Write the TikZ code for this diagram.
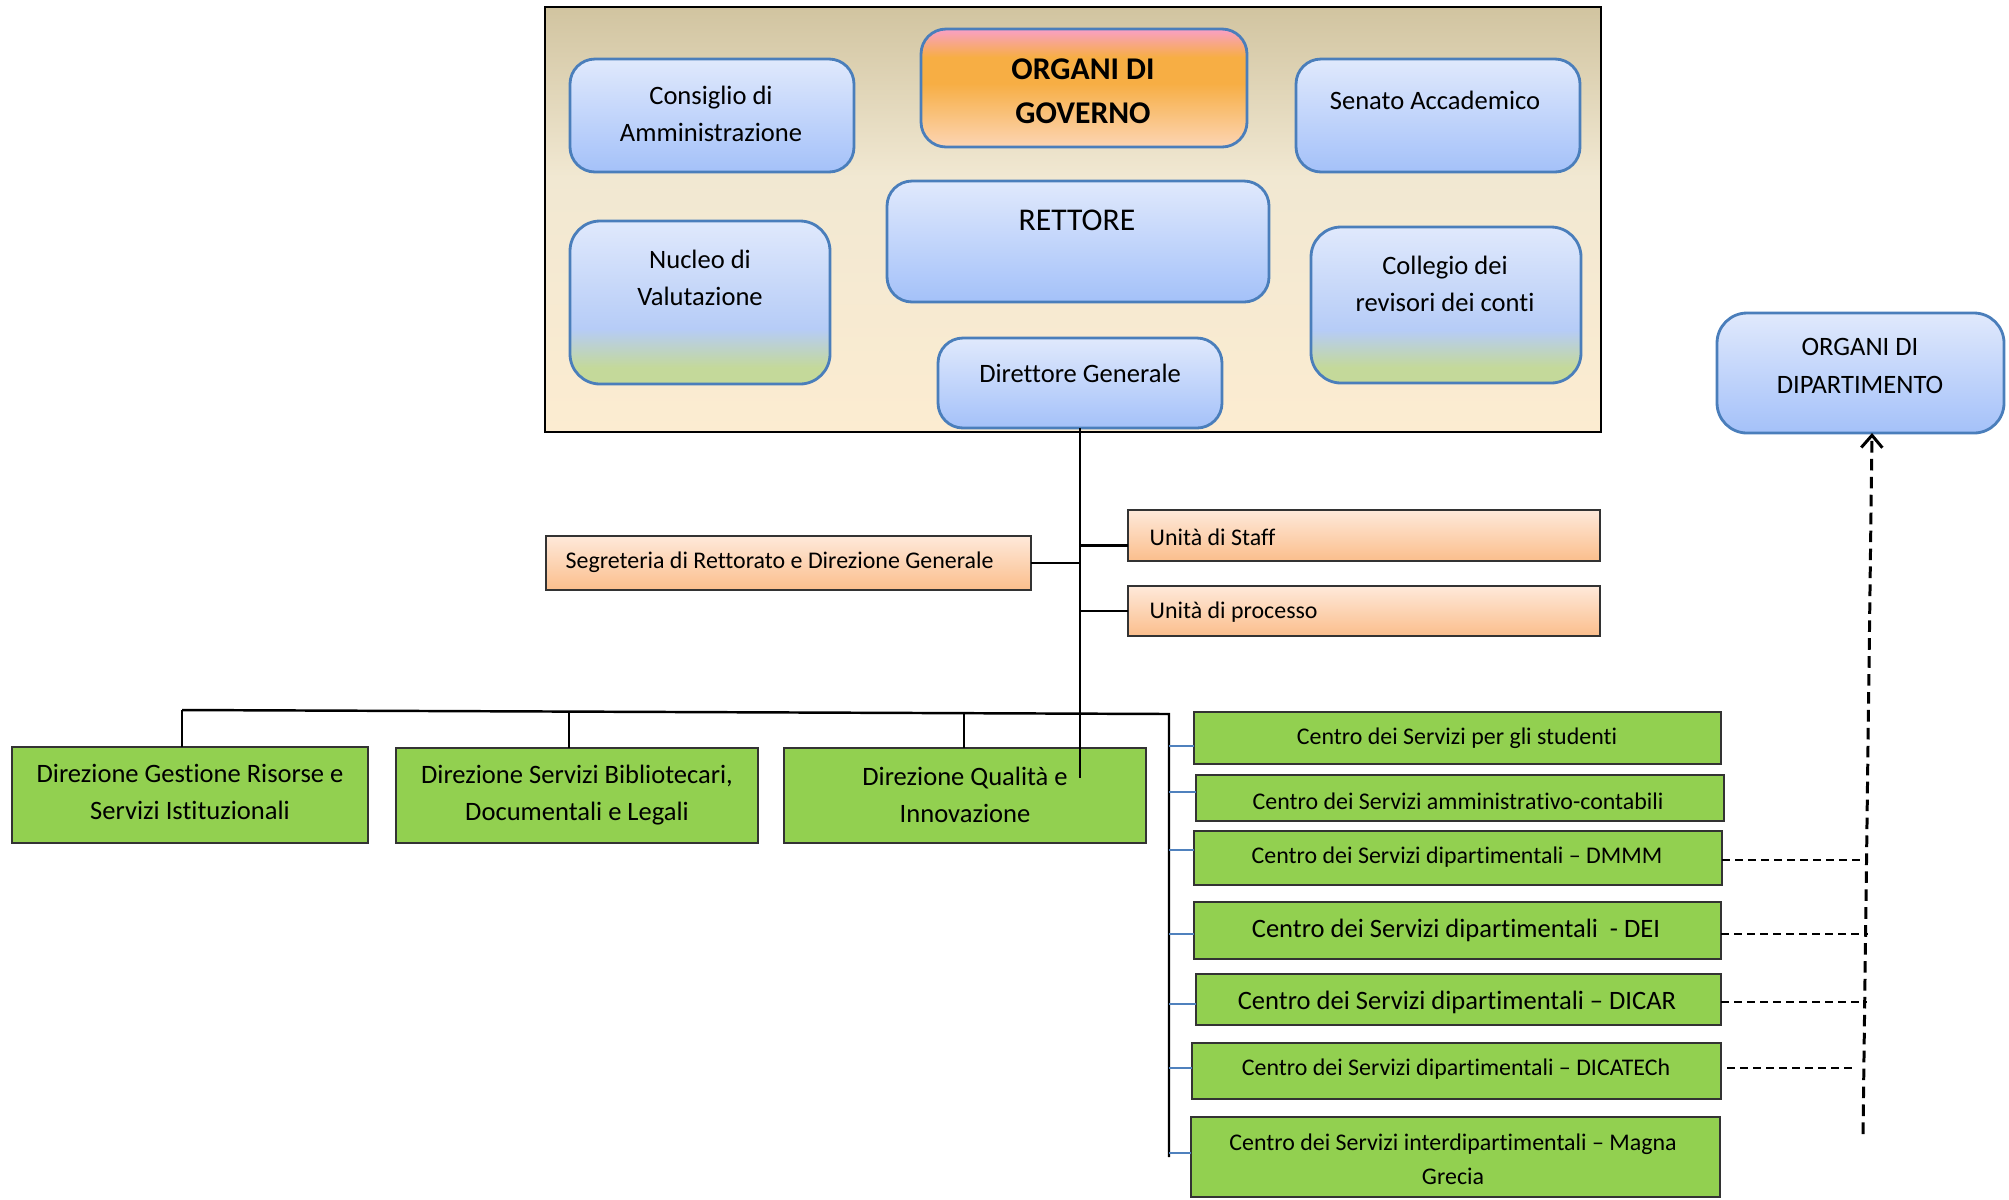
\documentclass[tikz,border=0pt]{standalone}
\usepackage{fontspec}
\setmainfont{Carlito}[Ligatures={NoCommon,NoContextual}, Contextuals=NoAlternate]
\usetikzlibrary{fit,arrows.meta}
\definecolor{bt}{HTML}{E0E9FC}
\definecolor{bb}{HTML}{A4C1F9}
\definecolor{bm}{HTML}{B6CCF7}
\definecolor{gb}{HTML}{C4D99A}
\definecolor{bord}{HTML}{4A7EBB}
\definecolor{grn}{HTML}{92D050}
\definecolor{ot}{HTML}{FEE9DA}
\definecolor{ob}{HTML}{FBBE8C}
\definecolor{kt}{HTML}{D1C4A0}
\definecolor{km}{HTML}{F1E8D2}
\definecolor{kb}{HTML}{FCECD1}
\definecolor{pk}{HTML}{F9A0C6}
\definecolor{og}{HTML}{F7AE44}
\definecolor{pb}{HTML}{FCD5B4}
\definecolor{conn}{HTML}{4F81BD}
\pgfdeclareverticalshading{blueg}{100bp}{color(0bp)=(bb); color(25bp)=(bb); color(75bp)=(bt); color(100bp)=(bt)}
\pgfdeclareverticalshading{bgreen}{100bp}{color(0bp)=(gb); color(30bp)=(gb); color(42bp)=(bm); color(75bp)=(bt); color(100bp)=(bt)}
\pgfdeclareverticalshading{orgov}{100bp}{color(0bp)=(pb); color(25bp)=(pb); color(52bp)=(og); color(63bp)=(og); color(75bp)=(pk); color(100bp)=(pk)}
\pgfdeclareverticalshading{khaki}{100bp}{color(0bp)=(kb); color(25bp)=(kb); color(55bp)=(km); color(75bp)=(kt); color(100bp)=(kt)}
\pgfdeclareverticalshading{orbox}{100bp}{color(0bp)=(ob); color(25bp)=(ob); color(75bp)=(ot); color(100bp)=(ot)}
\tikzset{
  bx/.style={inner sep=0pt, outer sep=0pt},
  bluebox/.style={bx, draw=bord, line width=0.8pt, rounded corners=0.25cm, shade, shading=blueg},
  bgbox/.style={bx, draw=bord, line width=0.8pt, rounded corners=0.3cm, shade, shading=bgreen},
  govbox/.style={bx, draw=bord, line width=0.8pt, rounded corners=0.25cm, shade, shading=orgov},
  outerbox/.style={bx, draw=black, line width=0.7pt, shade, shading=khaki},
  orbx/.style={bx, draw=black!80, line width=0.75pt, shade, shading=orbox},
  grbox/.style={bx, draw=black!80, line width=0.75pt, fill=grn},
  txs/.style={inner sep=0pt, align=center, font=\fontsize{6.8}{9.7}\selectfont},
  txm/.style={inner sep=0pt, align=center, font=\fontsize{7.55}{10.6}\selectfont},
  txl/.style={inner sep=0pt, align=center, font=\fontsize{9}{12.5}\selectfont},
  txb/.style={inner sep=0pt, align=center, font=\fontsize{9}{12.5}\selectfont\bfseries},
  ln/.style={draw=black, line width=0.7pt},
  bl/.style={draw=conn, line width=0.5pt},
  dsh/.style={draw=black, line width=0.55pt, dash pattern=on 2.3pt off 1.4pt},
  dshv/.style={draw=black, line width=0.85pt, dash pattern=on 3.3pt off 1.8pt}
}
\begin{document}
\begin{tikzpicture}[x=0.01cm, y=-0.01cm]
\useasboundingbox (0,0) rectangle (2009,1199);
% outer governance frame
\node[outerbox, fit={(545,7) (1601,432)}] (outer) {};
\node[govbox, fit={(921,29) (1247,147)}] (gov) {};
\node[bluebox, fit={(570,59) (854,172)}] (cons) {};
\node[bluebox, fit={(1296,59) (1580,172)}] (sen) {};
\node[bluebox, fit={(887,181) (1269,302)}] (ret) {};
\node[bgbox, fit={(570,221) (830,384)}] (nuc) {};
\node[bgbox, fit={(1311,227) (1581,383)}] (col) {};
\node[bluebox, fit={(938,338) (1222,428)}] (dg) {};
\node[bluebox, rounded corners=0.3cm, fit={(1717,313) (2004,433)}] (od) {};
% texts
\node[txb] (govt) at (1083,91) {ORGANI DI\\GOVERNO};
\node[txm] (const) at (711,114) {Consiglio di\\Amministrazione};
\node[txm] (sent) at (1435,100) {Senato Accademico};
\node[txl] (rett) at (1077,220) {RETTORE};
\node[txm] (nuct) at (700,278) {Nucleo di\\Valutazione};
\node[txm] (colt) at (1445,284) {Collegio dei\\revisori dei conti};
\node[txm] (dgt) at (1080,373) {Direttore Generale};
\node[txm] (odt) at (1860,366) {ORGANI DI\\DIPARTIMENTO};
% staff boxes
\node[orbx, fit={(546,536) (1031,590)}] (seg) {};
\node[orbx, fit={(1128,510) (1600,561)}] (staff) {};
\node[orbx, fit={(1128,586) (1600,636)}] (proc) {};
\node[txs, anchor=west] (segt) at (565,562) {Segreteria di Rettorato e Direzione Generale};
\node[txs, anchor=west] (stafft) at (1149,537) {Unità di Staff};
\node[txs, anchor=west] (proct) at (1149,612) {Unità di processo};
% direzioni
\node[grbox, fit={(12,747) (368,843)}] (gest) {};
\node[grbox, fit={(396,748) (758,843)}] (bib) {};
\node[grbox, fit={(784,748) (1146,843)}] (qual) {};
\node[txm] (gestt) at (190,792) {Direzione Gestione Risorse e\\Servizi Istituzionali};
\node[txm] (bibt) at (577,795) {Direzione Servizi Bibliotecari,\\Documentali e Legali};
\node[txm] (qualt) at (965,795) {Direzione Qualità e\\Innovazione};
% centri
\node[grbox, fit={(1194,712) (1721,764)}] (cs1) {};
\node[grbox, fit={(1196,775) (1724,821)}] (cs2) {};
\node[grbox, fit={(1194,831) (1722,885)}] (cs3) {};
\node[grbox, fit={(1194,902) (1721,959)}] (cs4) {};
\node[grbox, fit={(1196,974) (1721,1025)}] (cs5) {};
\node[grbox, fit={(1192,1043) (1721,1099)}] (cs6) {};
\node[grbox, fit={(1191,1117) (1720,1197)}] (cs7) {};
\node[txs] (cs1t) at (1457,738) {Centro dei Servizi per gli studenti};
\node[txs] (cs2t) at (1458,801) {Centro dei Servizi amministrativo-contabili};
\node[txs] (cs3t) at (1457,857) {Centro dei Servizi dipartimentali – DMMM};
\node[txm] (cs4t) at (1456,930) {Centro dei Servizi dipartimentali~ - DEI};
\node[txm] (cs5t) at (1457,1002) {Centro dei Servizi dipartimentali – DICAR};
\node[txs] (cs6t) at (1456,1069) {Centro dei Servizi dipartimentali – DICATECh};
\node[txs] (cs7t) at (1453,1159) {Centro dei Servizi interdipartimentali – Magna\\Grecia};
% connectors
\coordinate (tEnd) at (1080,778);
\coordinate (busL) at (182,710);
\coordinate (busR) at (1169,714);
\coordinate (vEnd) at (1169,1157);
\coordinate (d2) at (569,711.6);
\coordinate (d3) at (964,713.2);
\draw[ln] (dg.south) -- (tEnd);
\draw[ln] (seg.east) -- (seg.east -| tEnd);
\draw[ln] ([yshift=-0.1cm]staff.west) -- ([yshift=-0.1cm]staff.west -| tEnd);
\draw[ln] (proc.west) -- (proc.west -| tEnd);
\draw[ln] (busL) -- (busR) -- (vEnd);
\draw[ln] (busL) -- (busL |- gest.north);
\draw[ln] (d2) -- (d2 |- bib.north);
\draw[ln] (d3) -- (d3 |- qual.north);
\draw[bl] ([yshift=-0.08cm]cs1.west) -- ++(-25,0);
\draw[bl] ([yshift=0.06cm]cs2.west) -- ++(-27,0);
\draw[bl] ([yshift=0.08cm]cs3.west) -- ++(-25,0);
\draw[bl] ([yshift=-0.035cm]cs4.west) -- ++(-25,0);
\draw[bl] ([yshift=-0.045cm]cs5.west) -- ++(-27,0);
\draw[bl] ([yshift=0.03cm]cs6.west) -- ++(-23,0);
\draw[bl] ([yshift=0.04cm]cs7.west) -- ++(-22,0);
% dashed links to organi di dipartimento
\coordinate (arrB) at (1863,1134);
\draw[dshv, -{Straight Barb[length=3.5pt,width=6pt]}] (arrB) -- ([xshift=0.115cm]od.south);
\draw[dsh] ([yshift=-0.02cm]cs3.east) -- ++(146,0);
\draw[dsh] ([yshift=-0.035cm]cs4.east) -- ++(147,0);
\draw[dsh] ([yshift=-0.025cm]cs5.east) -- ++(146,0);
\draw[dsh] ([xshift=0.06cm,yshift=0.03cm]cs6.east) -- ++(130,0);
\end{tikzpicture}
\end{document}
